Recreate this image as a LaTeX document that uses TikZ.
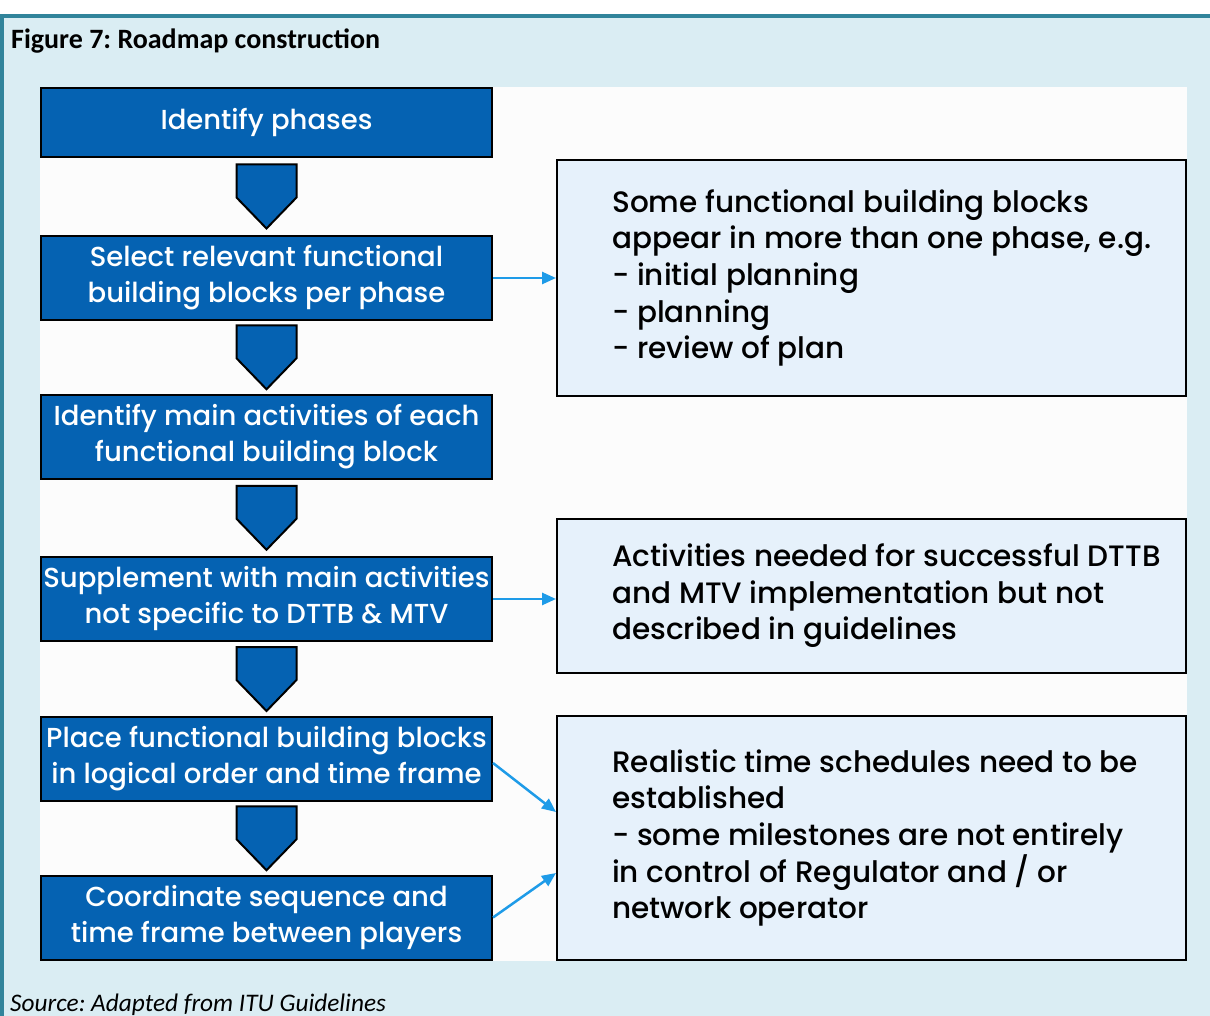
\documentclass[tikz,border=0pt]{standalone}
\usepackage{fontspec}
\setmainfont{Carlito}
\newfontfamily\gothic{Poppins Medium}
\frenchspacing
\usetikzlibrary{arrows.meta}
\usetikzlibrary{positioning}
\usetikzlibrary{calc}
\definecolor{framebg}{HTML}{DAEDF3}
\definecolor{frameline}{HTML}{31849B}
\definecolor{panelbg}{HTML}{FCFCFC}
\definecolor{stepblue}{HTML}{0562B2}
\definecolor{notebg}{HTML}{E6F1FB}
\definecolor{linkblue}{HTML}{1E9BE8}
\tikzset{stepbox/.style = {draw=black, line width=2, fill=stepblue, text=white, minimum width=451, minimum height=84, align=center, inner sep=0, font=\gothic\fontsize{27.5}{36}\selectfont}}
\tikzset{notebox/.style = {draw=black, line width=2, fill=notebg, minimum width=629}}
\tikzset{notetext/.style = {align=left, inner sep=0, font=\gothic\fontsize{29.5}{36.6}\selectfont}}
\tikzset{chev/.style = {draw=black, line width=2, fill=stepblue}}
\tikzset{link/.style = {-{Triangle[length=14,width=12]}, draw=linkblue, line width=2.5}}

\begin{document}
\begin{tikzpicture}[x=1pt, y=-1pt]
            \useasboundingbox (0,0) rectangle (1210,1016);
            % frame
            \fill [white] (0,0) rectangle (1210,1016);
            \fill [framebg] (0,14) rectangle (1210,1016);
            \fill [frameline] (0,14) rectangle (1210,18);
            \fill [frameline] (0,14) rectangle (4,1016);
            \fill [panelbg] (40,87) rectangle (1187,961);
            \node [anchor=base west, inner sep=0, font=\bfseries\fontsize{28}{30}\selectfont] (title) at (11,49) {Figure 7: Roadmap construction};
            \node [anchor=base west, inner sep=0, font=\itshape\fontsize{25.3}{30}\selectfont] (source) at (10,1011) {Source: Adapted from ITU Guidelines};

            % steps
            \node [stepbox, minimum height=69] (phases) at (266.5,122.5) {Identify phases};
            \node [stepbox] (select) at (266.5,278) {Select relevant functional\\building blocks per phase};
            \node [stepbox] (mainact) at (266.5,436.5) {Identify main activities of each\\functional building block};
            \node [stepbox] (supp) at (266.5,599) {Supplement with main activities\\not specific to DTTB \& MTV};
            \node [stepbox] (place) at (266.5,759) {Place functional building blocks\\in logical order and time frame};
            \node [stepbox] (coord) at (266.5,917.5) {Coordinate sequence and\\time frame between players};

            \foreach \a/\b in {phases/select, select/mainact, mainact/supp, supp/place, place/coord}
                \draw [chev, shift={($(\a.south)!.5!(\b.north)$)}] (-30,-32) -- (30,-32) -- (30,1) -- (0,32) -- (-30,1) -- cycle;

            % notes
            \node [notebox, minimum height=236] (notephase) at (871.5,278) {};
            \node [notetext, right=56 of notephase.west] (notephasetext) {Some functional building blocks\\appear in more than one phase, e.g.\\- initial planning\\- planning\\- review of plan};
            \node [notebox, minimum height=154] (noteextra) at (871.5,596) {};
            \node [notetext, right=56 of noteextra.west] (noteextratext) {Activities needed for successful DTTB\\and MTV implementation but not\\described in guidelines};
            \node [notebox, minimum height=244] (notetime) at (871.5,838) {};
            \node [notetext, right=56 of notetime.west] (notetimetext) {Realistic time schedules need to be\\established\\- some milestones are not entirely\\in control of Regulator and / or\\network operator};

            \draw [link] (select.east) -- (select.east -| notephase.west);
            \draw [link] (supp.east) -- (supp.east -| noteextra.west);
            \draw [link] ([yshift=-4]place.east) -- ([yshift=26]notetime.west);
            \draw [link] (coord.east) -- ([yshift=-35]notetime.west);
        \end{tikzpicture}
\end{document}
